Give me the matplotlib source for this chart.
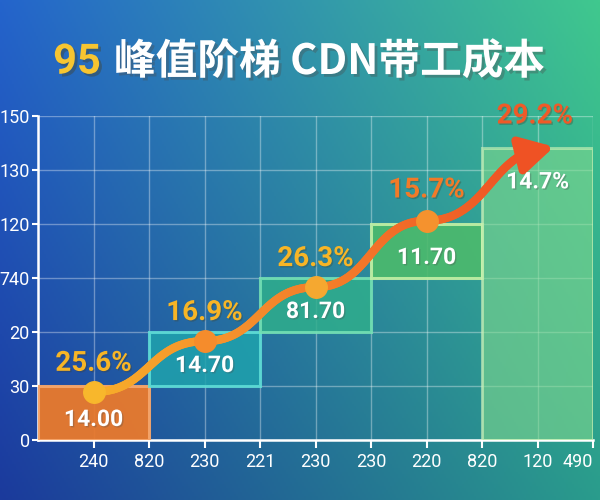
import numpy as np
import matplotlib
matplotlib.use("Agg")
import matplotlib.pyplot as plt
from matplotlib.collections import LineCollection
from matplotlib.colors import LinearSegmentedColormap, to_rgb
from matplotlib.bezier import BezierSegment
import matplotlib.patheffects as pe

plt.rcParams['font.family'] = ['Roboto', 'Noto Sans CJK SC', 'DejaVu Sans']

# --- data ---
x_labels = ['240', '820', '230', '221', '230', '230', '220', '820', '120', '490']
y_labels = ['0', '30', '20', '740', '120', '130', '150']

box_centers = [1, 3, 5, 7, 9]
box_bottoms = [0, 1, 2, 3, 0]
box_tops = [1, 2, 3, 4, 5.4]
box_texts = ['14.00', '14.70', '81.70', '11.70', '14.7%']
box_colors = ['#ea7a2c', '#1fa3ad', '#2fae8c', '#4cba6c', '#7fd88e']
box_edges = ['#f6a56a', '#5fe0d8', '#74e2b4', '#c2f0a4', '#d0f4b8']
box_alpha = [0.95, 0.85, 0.85, 0.9, 0.6]

pt_x = [1, 3, 5, 7, 9.3]
pt_y = [0.89, 1.83, 2.83, 4.06, 5.43]
pct_texts = ['25.6%', '16.9%', '26.3%', '15.7%', '29.2%']
pct_x = [1, 3, 5, 7, 8.95]
pct_dy = [0.53, 0.53, 0.53, 0.57, 0.57]
pct_colors = ['#f7b526', '#f7b526', '#f7b526', '#f27a28', '#ef5a28']
dot_colors = ['#f8b72c', '#f58c2c', '#f5a830', '#f5922e']

fig = plt.figure(figsize=(6, 5), dpi=100)

# background gradient
bg = fig.add_axes([0, 0, 1, 1], zorder=-10)
tl, tr = np.array(to_rgb('#2464cc')), np.array(to_rgb('#40c88e'))
bl, br = np.array(to_rgb('#1b3a9c')), np.array(to_rgb('#2a9c8c'))
u = np.linspace(0, 1, 300)[None, :, None]
v = np.linspace(0, 1, 250)[:, None, None]
img = (1 - v) * ((1 - u) * tl + u * tr) + v * ((1 - u) * bl + u * br)
bg.imshow(img, aspect='auto', extent=[0, 1, 0, 1])
bg.axis('off')

# title
shadow = [pe.withSimplePatchShadow(offset=(2, -2), alpha=0.35)]
fig.text(0.168, 0.876, '95', color='#f7c531', fontsize=30, fontweight='bold',
         ha='right', va='center', family=['Roboto', 'Noto Sans CJK SC'], path_effects=shadow)
fig.text(0.19, 0.876, '峰值阶梯 CDN带工成本', color='white', fontsize=30, fontweight='bold',
         ha='left', va='center', family=['Noto Sans CJK SC', 'DejaVu Sans'], path_effects=shadow)

ax = fig.add_axes([38 / 600, 60 / 500, 555 / 600, 324 / 500])
ax.set_facecolor('none')
ax.set_xlim(0, 10)
ax.set_ylim(0, 6)

for s in ['top', 'right']:
    ax.spines[s].set_visible(False)
for s in ['left', 'bottom']:
    ax.spines[s].set_color('white')
    ax.spines[s].set_linewidth(1.8)
ax.set_xticks(range(1, 11))
ax.set_xticklabels(x_labels)
ax.set_yticks(range(7))
ax.set_yticklabels(y_labels)
ax.tick_params(colors='white', labelsize=13, width=1.5, length=6)
ax.tick_params(axis='y', length=4, pad=2)
ax.get_xticklabels()[-1].set_horizontalalignment('right')
ax.grid(True, color='white', alpha=0.35, lw=1)
ax.set_axisbelow(True)

# boxes
for c, b, t, txt, fc, ec, a in zip(box_centers, box_bottoms, box_tops, box_texts,
                                   box_colors, box_edges, box_alpha):
    ax.bar(c, t - b, bottom=b, width=2, color=fc, alpha=a, edgecolor=ec,
           linewidth=2.2, zorder=3)
    ax.text(c, t - 0.62, txt, color='white', fontsize=16.5, fontweight='bold',
            ha='center', va='center', zorder=6,
            path_effects=[pe.withSimplePatchShadow(offset=(1, -1), alpha=0.3)])

# smooth growth curve (S-shaped cubic between points)
pts = []
for i in range(len(pt_x) - 1):
    x0, y0, x1, y1 = pt_x[i], pt_y[i], pt_x[i + 1], pt_y[i + 1]
    dx = (x1 - x0) * 0.5
    seg = BezierSegment(np.array([[x0, y0], [x0 + dx, y0], [x1 - dx, y1], [x1, y1]]))
    pts.append(seg(np.linspace(0, 1, 60)))
curve = np.vstack(pts)
curve = curve[:-12]
segs = np.stack([curve[:-1], curve[1:]], axis=1)
cmap = LinearSegmentedColormap.from_list('g', ['#f7ad2a', '#f5902c', '#f27428', '#ef5224'])
lc = LineCollection(segs, cmap=cmap, linewidths=6, capstyle='round', zorder=4)
lc.set_array(np.linspace(0, 1, len(segs)))
ax.add_collection(lc)
ax.annotate('', xy=(pt_x[-1], pt_y[-1]), xytext=tuple(curve[-1]),
            arrowprops=dict(arrowstyle='-|>,head_length=0.9,head_width=0.5',
                            color='#ef5224', lw=6, mutation_scale=22, shrinkA=0, shrinkB=0),
            zorder=5)

for x, y, c in zip(pt_x[:-1], pt_y[:-1], dot_colors):
    ax.plot(x, y, 'o', ms=15.5, color=c, zorder=5)

for x, y, dy, txt, c in zip(pct_x, pt_y, pct_dy, pct_texts, pct_colors):
    ax.text(x, y + dy, txt, color=c, fontsize=20, fontweight='bold',
            ha='center', va='center', zorder=6, clip_on=False,
            path_effects=[pe.withSimplePatchShadow(offset=(1, -1), alpha=0.25)])

fig.savefig('out.png', dpi=100)
